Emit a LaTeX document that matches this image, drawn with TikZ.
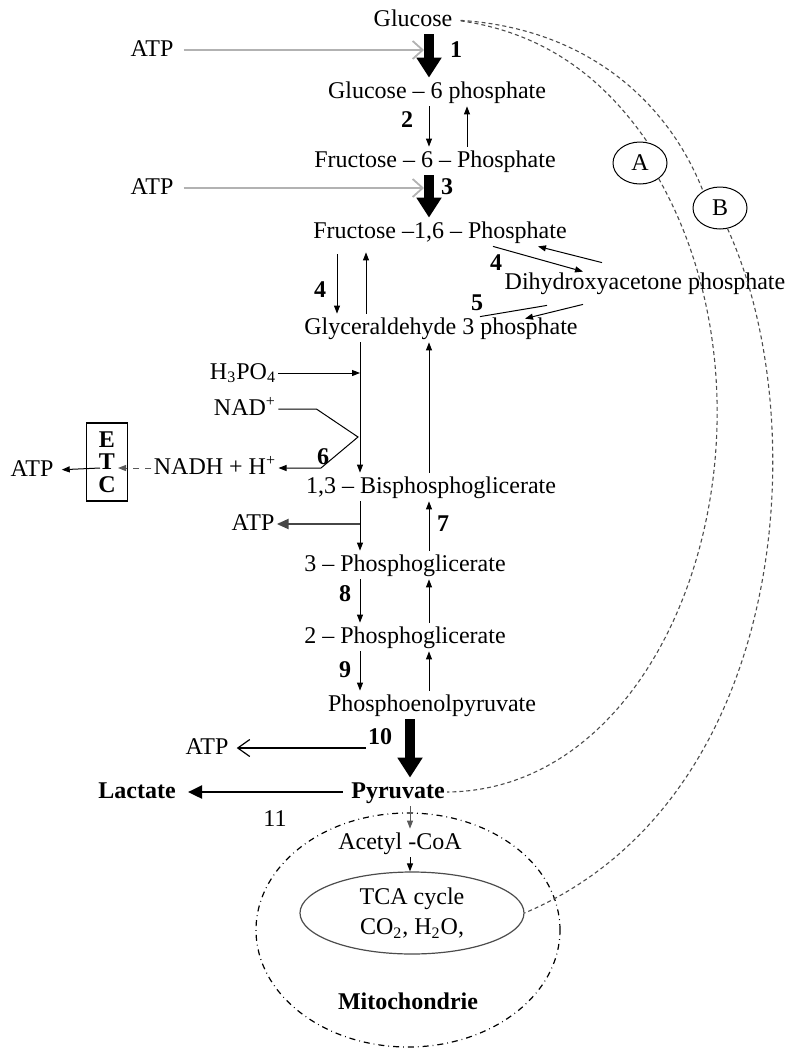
\documentclass[tikz,border=0pt]{standalone}
\usepackage{fontspec}
\setmainfont{Liberation Serif}
\usepackage{tikz}
\usetikzlibrary{arrows.meta, calc, shapes.geometric}
\tikzset{
    metab/.style={
        font=\fontsize{12}{14}\selectfont, inner sep=1pt,
        text height=9pt, text depth=3pt
    },
    metab_bold/.style={
        metab, font=\fontsize{12}{14}\selectfont\bfseries
    },
    step_no/.style={
        font=\fontsize{12}{14}\selectfont\bfseries, inner sep=0pt
    },
    ring_lbl/.style={
        ellipse, draw, line width=0.5pt, minimum width=27pt, minimum height=21pt,
        inner sep=0pt, font=\fontsize{12}{14}\selectfont
    },
    etc_box/.style={
        rectangle, draw, line width=0.6pt, minimum width=20.5pt, minimum height=39pt,
        inner sep=0pt, align=center, font=\fontsize{12}{11.25}\selectfont\bfseries
    },
    tca_oval/.style={
        ellipse, draw=black!70, line width=0.6pt, minimum width=112pt, minimum height=41pt,
        inner sep=0pt, align=center, font=\fontsize{12}{15}\selectfont
    },
    mito_oval/.style={
        ellipse, draw, dash dot, line width=0.6pt, minimum width=152pt, minimum height=117pt
    },
    thin_arrow/.style={
        -{Triangle[length=4pt,width=3pt]}, line width=0.5pt, draw=black
    },
    big_arrow/.style={
        -{Triangle[length=10pt,width=12pt]}, line width=5pt, draw=black
    },
    atp_in/.style={
        -{Straight Barb[length=5pt,width=9pt]}, line width=0.9pt, draw=gray!60
    },
    atp_barb/.style={
        -{Straight Barb[length=6pt,width=8.5pt]}, line width=0.6pt, draw=black
    },
    atp_out/.style={
        -{Triangle[length=6pt,width=5pt]}, line width=1.2pt, draw=gray!55!black
    },
    lac_arrow/.style={
        -{Triangle[length=7pt,width=6.5pt]}, line width=1.3pt, draw=black
    },
    nadh_dash/.style={
        -{Triangle[length=4pt,width=3pt]}, dashed, line width=0.5pt, draw=gray!70!black
    },
    route/.style={
        dash pattern=on 2pt off 1.5pt, line width=0.55pt, draw=gray!60!black
    }
}

\begin{document}
\begin{tikzpicture}[x=0.5pt, y=-0.5pt]
    \useasboundingbox (0,0) rectangle (787,1050);

    % Columns of the vertical arrows
    \coordinate (colL) at (360,0);
    \coordinate (colR) at (429,0);
    \coordinate (colU) at (467,0);
    \coordinate (col4d) at (337,0);
    \coordinate (col4u) at (366,0);
    \coordinate (col10) at (410,0);

    % Mitochondrion (drawn first, behind everything)
    \node[mito_oval] (mito) at (408,930) {};
    \node[metab_bold] (mitolbl) at (408,1003) {Mitochondrie};

    % Metabolites of the main pathway
    \node[metab] (glc) at (413,20) {Glucose};
    \node[metab] (g6p) at (437,92) {Glucose -- 6 phosphate};
    \node[metab] (f6p) at (435,161) {Fructose -- 6 -- Phosphate};
    \node[metab] (f16p) at (440,232) {Fructose --1,6 -- Phosphate};
    \node[metab] (dhap) at (645,283) {Dihydroxyacetone phosphate};
    \node[metab] (gap) at (441,328) {Glyceraldehyde 3 phosphate};
    \node[metab] (bpg) at (431,487) {1,3 -- Bisphosphoglicerate};
    \node[metab] (pg3) at (405,565) {3 -- Phosphoglicerate};
    \node[metab] (pg2) at (405,637) {2 -- Phosphoglicerate};
    \node[metab] (pep) at (432,705) {Phosphoenolpyruvate};
    \node[metab_bold] (pyr) at (398,792) {Pyruvate};
    \node[metab_bold] (lac) at (137,792) {Lactate};
    \node[metab] (acoa) at (400,843) {Acetyl -CoA};
    \node[tca_oval] (tca) at (412,913) {TCA cycle\\CO\textsubscript{2}, H\textsubscript{2}O,};

    % Cofactors
    \node[metab] (atp1) at (152,50) {ATP};
    \node[metab] (atp3) at (152,188) {ATP};
    \node[metab] (h3po4) at (243,373) {H\textsubscript{3}PO\textsubscript{4}};
    \node[metab] (nad) at (245,409) {NAD\textsuperscript{+}};
    \node[metab] (nadh) at (215,468) {NADH + H\textsuperscript{+}};
    \node[etc_box] (etc) at (107,462) {E\\T\\C};
    \node[metab] (atpetc) at (32,470) {ATP};
    \node[metab] (atp7) at (253,524) {ATP};
    \node[metab] (atp10) at (207,748) {ATP};

    % Route markers
    \node[ring_lbl] (ringA) at (640,163) {A};
    \node[ring_lbl] (ringB) at (720,208) {B};

    % Step numbers
    \node[step_no] (n1) at (456,50) {1};
    \node[step_no] (n2) at (407,120) {2};
    \node[step_no] (n3) at (447,187) {3};
    \node[step_no] (n4a) at (320,290) {4};
    \node[step_no] (n4b) at (496,263) {4};
    \node[step_no] (n5) at (477,303) {5};
    \node[step_no] (n6) at (323,457) {6};
    \node[step_no] (n7) at (443,524) {7};
    \node[step_no] (n8) at (345,594) {8};
    \node[step_no] (n9) at (345,670) {9};
    \node[step_no] (n10) at (380,737) {10};
    \node[metab] (n11) at (275,820) {11};

    % Junctions
    \coordinate (atp1in) at (424,50);
    \coordinate (atp3in) at (424,188);
    \coordinate (j6) at (358,437);
    \coordinate (k6) at (321,468);
    \coordinate (etcin) at (118,468);
    \coordinate (etcout) at (100,468);
    \coordinate (j7) at (360,524);
    \coordinate (j10) at (366,748);

    % Glucose -> Fructose-1,6-P
    \draw[atp_in, shorten <=4pt] (atp1.east) -- (atp1in);
    \draw[big_arrow] (glc.south -| colR) -- (g6p.north -| colR);
    \draw[thin_arrow] (g6p.south -| colR) -- (f6p.north -| colR);
    \draw[thin_arrow] (f6p.north -| colU) -- (g6p.south -| colU);
    \draw[atp_in, shorten <=4pt] (atp3.east) -- (atp3in);
    \draw[big_arrow] (f6p.south -| colR) -- (f16p.north -| colR);

    % Aldolase and triose exchange
    \draw[thin_arrow, shorten <=4pt] (f16p.south -| col4d) -- (gap.north -| col4d);
    \draw[thin_arrow, shorten >=3pt] (gap.north -| col4u) -- (f16p.south -| col4u);
    \draw[thin_arrow] ($(f16p.south)+(53,0)$) -- ($(dhap.north)+(-62,3)$);
    \draw[thin_arrow] ($(dhap.north)+(-43,-6)$) -- ($(f16p.south)+(98,0)$);
    \draw[line width=0.5pt] ($(gap.north)+(39,3)$) -- ($(dhap.south)+(-98,8)$);
    \draw[thin_arrow] ($(dhap.south)+(-62,7)$) -- ($(gap.north)+(84,5)$);

    % Glyceraldehyde 3-P -> 1,3-BPG
    \draw[thin_arrow] (gap.south -| colL) -- (bpg.north -| colL);
    \draw[thin_arrow] (h3po4.east) -- (h3po4 -| colL);
    \draw[thin_arrow] (nad.east) -- ++(38,0) -- (j6) -- (k6) -- (nadh.east);
    \draw[thin_arrow] (bpg.north -| colR) -- (gap.south -| colR);

    % Electron transport chain
    \draw[nadh_dash] (nadh.west) -- (etcin);
    \draw[thin_arrow, shorten >=3pt] (etcout) -- (atpetc.east);

    % 1,3-BPG -> Pyruvate
    \draw[thin_arrow] (bpg.south -| colL) -- (pg3.north -| colL);
    \draw[atp_out] (j7) -- (atp7.east);
    \draw[thin_arrow] (pg3.north -| colR) -- (bpg.south -| colR);
    \draw[thin_arrow] (pg3.south -| colL) -- (pg2.north -| colL);
    \draw[thin_arrow] (pg2.north -| colR) -- (pg3.south -| colR);
    \draw[thin_arrow] (pg2.south -| colL) -- (pep.north -| colL);
    \draw[thin_arrow] (pep.north -| colR) -- (pg2.south -| colR);
    \draw[big_arrow] (pep.south -| col10) -- (pyr.north -| col10);
    \draw[atp_barb, shorten >=3pt] (j10) -- (atp10.east);

    % Pyruvate fates
    \draw[lac_arrow, shorten <=3pt, shorten >=5pt] (pyr.west) -- (lac.east);
    \draw[thin_arrow, draw=gray!70!black] (pyr.south -| col10) -- (acoa.north -| col10);
    \draw[thin_arrow] (acoa.south -| col10) -- (tca.north -| col10);

    % Dashed routes A and B
    \draw[route, shorten <=3pt] (glc.east) .. controls (560,35) and (615,95) .. (ringA.70);
    \draw[route] (ringA.-40) .. controls (795,420) and (680,790) .. (pyr.east);
    \draw[route, shorten <=3pt] (glc.east) .. controls (580,28) and (665,95) .. (ringB.135);
    \draw[route] (ringB.-70) .. controls (815,420) and (790,800) .. (tca.east);
\end{tikzpicture}
\end{document}
